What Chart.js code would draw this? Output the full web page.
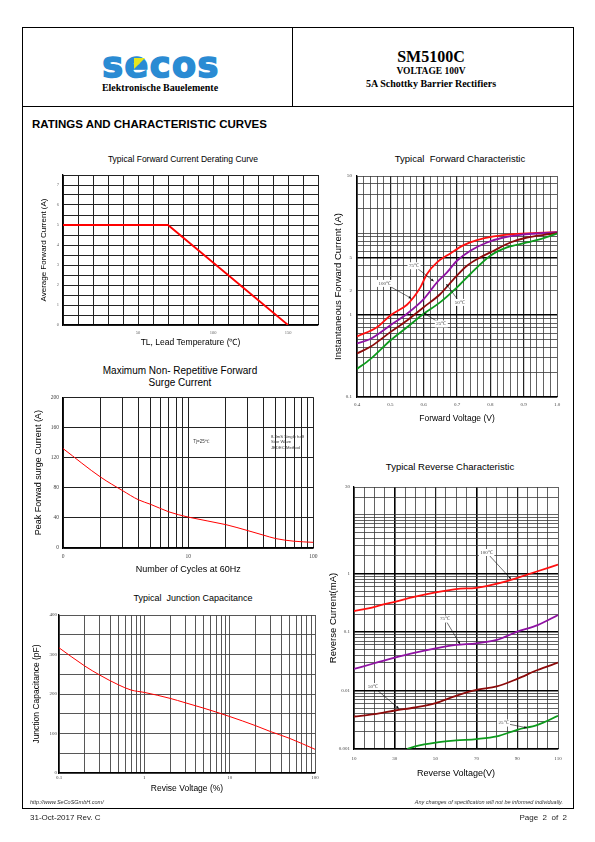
<!DOCTYPE html>
<html>
<head>
<meta charset="utf-8">
<title>SM5100C curves</title>
<script src="https://cdn.jsdelivr.net/npm/chart.js@4.4.1/dist/chart.umd.min.js"></script>
<style>
  body { margin: 0; background: #fff; }
  #page { position: relative; width: 595px; height: 842px; overflow: hidden; font-family: "Liberation Sans", Arial, sans-serif; color: #000; }
  .abs { position: absolute; white-space: nowrap; }
  .c { transform: translate(-50%, -50%); }
  .bs { font-family: "Liberation Serif", "Times New Roman", serif; font-weight: bold; }
  canvas { position: absolute; }
</style>
</head>
<body>
<div id="page">
  <!-- frame -->
  <div class="abs" style="left:22px;top:27px;width:550px;height:780px;border:1px solid #000;"></div>
  <div class="abs" style="left:22px;top:106px;width:551px;height:0;border-top:1px solid #000;"></div>
  <div class="abs" style="left:292px;top:27px;width:0;height:79px;border-left:1px solid #000;"></div>

  <!-- header -->
  <div class="abs c" style="left:161px;top:65px;font:bold 35px 'DejaVu Sans';color:#2a8bd3;letter-spacing:1.5px;-webkit-text-stroke:1.6px #2a8bd3;">secos</div>
  <div class="abs" style="left:134px;top:58px;width:0;height:0;border-top:11px solid #e6e61e;border-right:11px solid transparent;"></div>
  <div class="abs c bs" style="left:160px;top:87px;font-size:10px;">Elektronische Bauelemente</div>
  <div class="abs c bs" style="left:431px;top:57px;font-size:16px;">SM5100C</div>
  <div class="abs c bs" style="left:431px;top:71px;font-size:9.5px;">VOLTAGE 100V</div>
  <div class="abs c bs" style="left:431px;top:83px;font-size:10px;">5A Schottky Barrier Rectifiers</div>

  <div class="abs" style="left:32px;top:118px;font-weight:bold;font-size:11.5px;">RATINGS AND CHARACTERISTIC CURVES</div>

  <!-- chart titles -->
  <div class="abs c" style="left:183px;top:159px;font-size:8.5px;">Typical Forward Current Derating Curve</div>
  <div class="abs c" style="left:180px;top:370px;font-size:10px;">Maximum Non- Repetitive Forward</div>
  <div class="abs c" style="left:180px;top:382px;font-size:10px;">Surge Current</div>
  <div class="abs c" style="left:193px;top:598px;font-size:9px;">Typical&nbsp; Junction Capacitance</div>
  <div class="abs c" style="left:460px;top:158px;font-size:9.5px;">Typical&nbsp; Forward Characteristic</div>
  <div class="abs c" style="left:450px;top:466px;font-size:9.5px;">Typical Reverse Characteristic</div>

  <canvas id="derating"></canvas>
  <canvas id="surge"></canvas>
  <canvas id="capacitance"></canvas>
  <canvas id="forward"></canvas>
  <canvas id="reverse"></canvas>

  <!-- notes inside surge chart -->
  <div class="abs c" style="left:201px;top:441px;font-size:4.5px;color:#333;">Tj=25℃</div>
  <div class="abs" style="left:271px;top:434px;font-size:4.2px;line-height:5.3px;color:#333;">8.3mS Single half<br>Sine Wave<br>JEDEC Method</div>

  <!-- footer -->
  <div class="abs" style="left:30px;top:799px;font-size:5.5px;font-style:italic;color:#333;">http://www.SeCoSGmbH.com/</div>
  <div class="abs" style="right:32px;top:799px;font-size:5.5px;font-style:italic;color:#333;">Any changes of specification will not be informed individually.</div>
  <div class="abs" style="left:30px;top:813px;font-size:8px;color:#222;">31-Oct-2017 Rev. C</div>
  <div class="abs" style="right:28px;top:813px;font-size:8px;color:#222;">Page&nbsp; 2&nbsp; of&nbsp; 2</div>
</div>

<script>
// Forward current derating
const derateTemp = [0, 70, 150];
const derateAmp = [5, 5, 0];
const derateXLabels = { 50: '50', 100: '100', 150: '150' };
const derateYLabels = { 0: '0', 1: '1', 2: '2', 3: '3', 4: '4', 5: '5', 6: '6', 7: '7' };

// Peak forward surge current
const surgeCycles = [1, 2, 3, 4, 5, 7, 10, 20, 30, 40, 50, 70, 100];
const surgeAmp = [132, 94, 76, 64, 58, 48, 41, 31, 23, 17, 12.5, 9, 7.5];
const surgeXTicks = [1, 2, 3, 4, 5, 6, 7, 8, 9, 10, 20, 30, 40, 50, 60, 70, 80, 90, 100];
const surgeXLabels = { 1: '0', 10: '10', 100: '100' };
const surgeYLabels = { 0: '0', 40: '40', 80: '80', 120: '120', 160: '160', 200: '200' };

// Junction capacitance
const capVolt = [0.1, 0.2, 0.3, 0.5, 0.7, 1, 2, 3, 5, 10, 20, 30, 50, 100];
const capPf = [317, 271, 248, 223, 210, 204, 189, 178, 164, 143, 120, 105, 88, 60];
const capXTicks = [0.1, 0.2, 0.3, 0.4, 0.5, 0.6, 0.7, 0.8, 0.9, 1, 2, 3, 4, 5, 6, 7, 8, 9,
  10, 20, 30, 40, 50, 60, 70, 80, 90, 100];
const capXLabels = { 0.1: '0.1', 1: '1', 10: '10', 100: '100' };
const capYLabels = { 0: '0', 100: '100', 200: '200', 300: '300', 400: '400' };

// Forward characteristic (V, A)
const fwdV100 = [0.40, 0.46, 0.50, 0.55, 0.57, 0.59, 0.61, 0.64, 0.68, 0.72, 0.76, 0.81, 0.87, 0.94, 1.0];
const fwdI100 = [0.55, 0.71, 0.99, 1.34, 1.65, 2.18, 3.18, 4.41, 5.67, 7.16, 8.24, 9.13, 9.75, 10.1, 10.3];
const fwdV75 = [0.40, 0.44, 0.50, 0.55, 0.60, 0.64, 0.67, 0.70, 0.74, 0.79, 0.84, 0.89, 0.94, 1.0];
const fwdI75 = [0.45, 0.51, 0.75, 1.04, 1.57, 2.51, 3.33, 4.61, 6.11, 7.71, 8.87, 9.56, 9.93, 10.3];
const fwdV50 = [0.40, 0.44, 0.50, 0.55, 0.60, 0.65, 0.69, 0.73, 0.77, 0.81, 0.86, 0.91, 0.96, 1.0];
const fwdI50 = [0.34, 0.41, 0.62, 0.86, 1.25, 1.81, 2.76, 4.01, 5.07, 6.11, 7.71, 8.87, 9.56, 10.0];
const fwdV25 = [0.40, 0.44, 0.50, 0.55, 0.60, 0.65, 0.70, 0.74, 0.80, 0.85, 0.91, 0.96, 1.0];
const fwdI25 = [0.22, 0.29, 0.49, 0.71, 1.04, 1.44, 2.18, 3.18, 5.31, 6.71, 7.71, 8.71, 9.93];
const fwdYTicks = [0.1, 0.2, 0.3, 0.4, 0.5, 0.6, 0.7, 0.8, 0.9, 1, 2, 3, 4, 5, 6, 7, 8, 9,
  10, 20, 30, 40, 50];
const fwdXLabels = { 0.4: '0.4', 0.5: '0.5', 0.6: '0.6', 0.7: '0.7', 0.8: '0.8', 0.9: '0.9', 1: '1.0' };
const fwdYLabels = { 0.1: '0.1', 1: '1', 2: '2', 5: '5', 50: '50' };

// Reverse characteristic (V, mA)
const revV100 = [10, 17, 25, 30, 40, 50, 60, 70, 77, 85, 90, 100, 110];
const revI100 = [0.228, 0.253, 0.30, 0.328, 0.40, 0.473, 0.54, 0.569, 0.631, 0.74, 0.84, 1.09, 1.42];
const revV75 = [10, 20, 30, 40, 50, 60, 70, 80, 90, 100, 110];
const revI75 = [0.0233, 0.0292, 0.0364, 0.0444, 0.0525, 0.060, 0.064, 0.073, 0.101, 0.131, 0.195];
const revV50 = [10, 20, 30, 40, 50, 60, 70, 80, 90, 100, 110];
const revI50 = [0.00359, 0.00394, 0.00455, 0.00512, 0.00607, 0.0081, 0.0102, 0.0117, 0.0158, 0.0224, 0.0299];
const revV25 = [36, 40, 50, 60, 70, 80, 90, 100, 110];
const revI25 = [0.0010, 0.00111, 0.00129, 0.0014, 0.00148, 0.00164, 0.00213, 0.00259, 0.00369];
const revYTicks = [0.001, 0.002, 0.003, 0.004, 0.005, 0.006, 0.007, 0.008, 0.009,
  0.01, 0.02, 0.03, 0.04, 0.05, 0.06, 0.07, 0.08, 0.09,
  0.1, 0.2, 0.3, 0.4, 0.5, 0.6, 0.7, 0.8, 0.9,
  1, 2, 3, 4, 5, 6, 7, 8, 9, 10, 20, 30];
const revXLabels = { 10: '10', 30: '30', 50: '50', 70: '70', 90: '90', 110: '110' };
const revYLabels = { 0.001: '0.001', 0.01: '0.01', 0.1: '0.1', 1: '1', 30: '30' };

// temperature tags with arrows (data coordinates)
const fwdNotes = [
  { text: '100℃', label: [0.483, 2.44], tip: [0.563, 1.6] },
  { text: '75℃', label: [0.571, 4.01], tip: [0.63, 2.6] },
  { text: '50℃', label: [0.708, 1.43], tip: [0.668, 2.4] },
  { text: '25℃', label: [0.653, 0.78], tip: [0.60, 1.06] }
];
const revNotes = [
  { text: '100℃', label: [75, 2.28], tip: [87, 0.8] },
  { text: '75℃', label: [54.6, 0.166], tip: [62, 0.062] },
  { text: '50℃', label: [19.3, 0.0117], tip: [32, 0.0049] },
  { text: '25℃', label: [83.3, 0.00277], tip: [94.8, 0.0023] }
];

const RED = '#ff1010', PURPLE = '#8f12a3', DARKRED = '#8c0a0a', GREEN = '#0c9a1c';

const flechas = {
  id: 'flechas',
  afterDatasetsDraw(chart, args, opts) {
    const items = opts.items || [];
    if (!items.length) return;
    const { ctx, scales } = chart;
    ctx.save();
    ctx.font = '5px "Liberation Serif"';
    items.forEach(n => {
      const x0 = scales.x.getPixelForValue(n.label[0]), y0 = scales.y.getPixelForValue(n.label[1]);
      const x1 = scales.x.getPixelForValue(n.tip[0]), y1 = scales.y.getPixelForValue(n.tip[1]);
      ctx.strokeStyle = '#111';
      ctx.fillStyle = '#111';
      ctx.lineWidth = 0.6;
      ctx.beginPath();
      ctx.moveTo(x0, y0);
      ctx.lineTo(x1, y1);
      ctx.stroke();
      const a = Math.atan2(y1 - y0, x1 - x0);
      ctx.beginPath();
      ctx.moveTo(x1, y1);
      ctx.lineTo(x1 - 3 * Math.cos(a - 0.45), y1 - 3 * Math.sin(a - 0.45));
      ctx.lineTo(x1 - 3 * Math.cos(a + 0.45), y1 - 3 * Math.sin(a + 0.45));
      ctx.closePath();
      ctx.fill();
      const w = ctx.measureText(n.text).width + 3;
      ctx.fillStyle = '#fff';
      ctx.fillRect(x0 - w / 2, y0 - 3.5, w, 7);
      ctx.fillStyle = '#444';
      ctx.textAlign = 'center';
      ctx.textBaseline = 'middle';
      ctx.fillText(n.text, x0, y0);
    });
    ctx.restore();
  }
};

function serie(xs, ys, color, width, smooth) {
  return {
    data: xs.map((x, i) => ({ x: x, y: ys[i] })),
    borderColor: color,
    borderWidth: width,
    pointRadius: 0,
    fill: false,
    tension: 0,
    cubicInterpolationMode: smooth ? 'monotone' : 'default'
  };
}

function escala(o) {
  const bold = o.bold || [];
  const mid = o.mid || [];
  const cfg = {
    type: o.type,
    min: o.min,
    max: o.max,
    ticks: {
      autoSkip: false, maxRotation: 0, minRotation: 0,
      padding: o.tickPad,
      color: o.tickColor || '#444',
      font: { family: 'Liberation Serif', size: o.tickSize || 5 },
      callback: v => (o.labels[v] !== undefined ? o.labels[v] : '')
    },
    grid: {
      drawTicks: false,
      color: c => bold.includes(c.tick.value) ? '#000' : mid.includes(c.tick.value) ? '#222' : (o.gridColor || '#333'),
      lineWidth: c => bold.includes(c.tick.value) ? 1.6 : mid.includes(c.tick.value) ? 1.2 : (o.gridWidth || 0.8)
    },
    border: { display: true, color: '#000', width: 1.3 },
    title: {
      display: true, text: o.title, color: '#000',
      font: { family: 'Liberation Sans', size: o.titleSize },
      padding: { top: o.titlePad, bottom: o.titlePad }
    }
  };
  if (o.step) cfg.ticks.stepSize = o.step;
  if (o.ticks) cfg.afterBuildTicks = s => { s.ticks = o.ticks.map(v => ({ value: v })); };
  return cfg;
}

// box = canvas rect, area = plot rect (page pixels)
function crearGrafico(id, box, area, datasets, xOpts, yOpts, notes) {
  const canvas = document.getElementById(id);
  canvas.width = box.w;
  canvas.height = box.h;
  canvas.style.left = box.x + 'px';
  canvas.style.top = box.y + 'px';
  const yWidth = area.l - box.x;
  const xHeight = box.y + box.h - area.b;
  xOpts.afterFit = s => { s.height = xHeight; };
  yOpts.afterFit = s => { s.width = yWidth; };
  return new Chart(canvas, {
    type: 'line',
    data: { datasets: datasets },
    options: {
      responsive: false,
      animation: false,
      devicePixelRatio: 1,
      layout: { padding: { left: 0, top: area.t - box.y, right: box.x + box.w - area.r, bottom: 0 } },
      plugins: {
        legend: { display: false },
        tooltip: { enabled: false },
        flechas: { items: notes || [] }
      },
      scales: { x: xOpts, y: yOpts }
    },
    plugins: [flechas]
  });
}

document.addEventListener('DOMContentLoaded', () => {
  Chart.defaults.font.family = 'Liberation Sans';

  crearGrafico('derating',
    { x: 25, y: 165, w: 298, h: 187 }, { l: 63, t: 175, r: 318, b: 325 },
    [serie(derateTemp, derateAmp, '#ff0000', 1.8, false)],
    escala({ type: 'linear', min: 0, max: 170, step: 10, labels: derateXLabels, tickPad: 4.7,
      tickColor: '#666', tickSize: 4.5, title: 'TL, Lead Temperature (℃)', titleSize: 8.5, titlePad: 3.9, gridColor: '#222', gridWidth: 1 }),
    escala({ type: 'linear', min: 0, max: 7.5, step: 0.5, labels: derateYLabels, tickPad: 4,
      tickColor: '#666', tickSize: 4.5, title: 'Average Forward Current (A)', titleSize: 8, titlePad: 13.5, gridColor: '#222', gridWidth: 1 }));

  crearGrafico('surge',
    { x: 25, y: 390, w: 298, h: 190 }, { l: 63, t: 397, r: 315, b: 548 },
    [serie(surgeCycles, surgeAmp, '#ff0000', 1, true)],
    escala({ type: 'logarithmic', min: 1, max: 100, ticks: surgeXTicks, labels: surgeXLabels, tickPad: 5.4,
      tickColor: '#444', tickSize: 5.5, title: 'Number of Cycles at 60Hz', titleSize: 9, titlePad: 4.6, gridColor: '#222', gridWidth: 1 }),
    escala({ type: 'linear', min: 0, max: 200, step: 40, labels: surgeYLabels, tickPad: 4,
      tickColor: '#444', tickSize: 5.5, title: 'Peak Forwad surge Current (A)', titleSize: 9, titlePad: 7.9, gridColor: '#222', gridWidth: 1 }));

  crearGrafico('capacitance',
    { x: 25, y: 605, w: 298, h: 195 }, { l: 59, t: 615, r: 315, b: 773 },
    [serie(capVolt, capPf, '#ff0000', 1, true)],
    escala({ type: 'logarithmic', min: 0.1, max: 100, ticks: capXTicks, labels: capXLabels, tickPad: 1.7,
      tickColor: '#444', tickSize: 5, title: 'Revise Voltage (%)', titleSize: 8.5, titlePad: 5.9, gridColor: '#444', gridWidth: 0.9 }),
    escala({ type: 'linear', min: 0, max: 400, step: 50, labels: capYLabels, tickPad: 2,
      tickColor: '#444', tickSize: 5, title: 'Junction Capacitance (pF)', titleSize: 8.5, titlePad: 6.6, gridColor: '#444', gridWidth: 0.9 }));

  crearGrafico('forward',
    { x: 325, y: 168, w: 245, h: 257 }, { l: 357, t: 175, r: 557, b: 397 },
    [serie(fwdV25, fwdI25, GREEN, 1.8, true), serie(fwdV50, fwdI50, DARKRED, 1.8, true),
     serie(fwdV75, fwdI75, PURPLE, 1.8, true), serie(fwdV100, fwdI100, RED, 1.8, true)],
    escala({ type: 'linear', min: 0.4, max: 1.0, step: 0.02, labels: fwdXLabels, tickPad: 5,
      tickColor: '#444', tickSize: 5, title: 'Forward Voltage (V)', titleSize: 8.5, titlePad: 1,
      gridColor: '#3a3a3a', gridWidth: 0.8, mid: [0.5, 0.6, 0.7, 0.8, 0.9] }),
    escala({ type: 'logarithmic', min: 0.1, max: 50, ticks: fwdYTicks, labels: fwdYLabels, tickPad: 5,
      tickColor: '#444', tickSize: 5, title: 'Instantaneous Forward Current (A)', titleSize: 9.5, titlePad: 7.6,
      gridColor: '#3a3a3a', gridWidth: 0.8, bold: [1, 5] }),
    fwdNotes);

  crearGrafico('reverse',
    { x: 325, y: 478, w: 245, h: 307 }, { l: 354, t: 487, r: 558, b: 749 },
    [serie(revV100, revI100, RED, 1.8, true), serie(revV75, revI75, PURPLE, 1.8, true),
     serie(revV50, revI50, DARKRED, 1.8, true), serie(revV25, revI25, GREEN, 1.8, true)],
    escala({ type: 'linear', min: 10, max: 110, step: 5, labels: revXLabels, tickPad: 7,
      tickColor: '#444', tickSize: 5, title: 'Reverse Voltage(V)', titleSize: 9, titlePad: 6.3,
      gridColor: '#3a3a3a', gridWidth: 0.8, bold: [30, 70], mid: [50, 90] }),
    escala({ type: 'logarithmic', min: 0.001, max: 30, ticks: revYTicks, labels: revYLabels, tickPad: 4,
      tickColor: '#444', tickSize: 5, title: 'Reverse Current(mA)', titleSize: 9.5, titlePad: 2.6,
      gridColor: '#3a3a3a', gridWidth: 0.8, bold: [1, 0.1, 0.01] }),
    revNotes);
});
</script>
</body>
</html>
